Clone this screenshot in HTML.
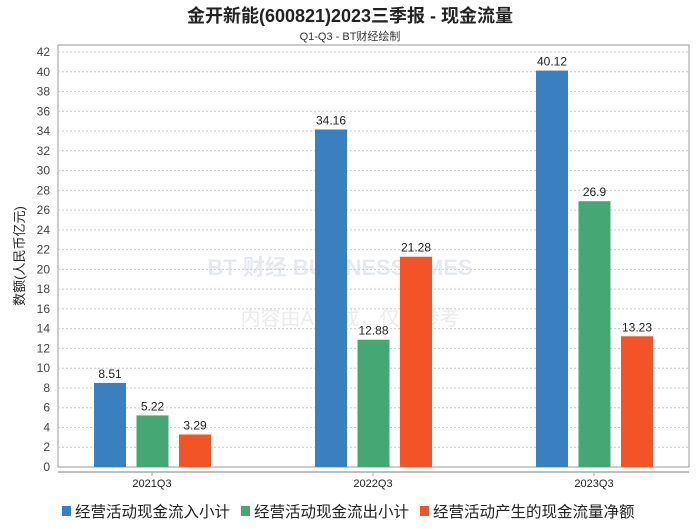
<!DOCTYPE html>
<html><head><meta charset="utf-8"><style>
body{margin:0;background:#fff;font-family:"Liberation Sans","Noto Sans CJK SC",sans-serif;}
svg text{font-family:"Liberation Sans","Noto Sans CJK SC",sans-serif;}
</style></head><body>
<svg id="c" width="700" height="524">
<text x="350" y="22" text-anchor="middle" font-size="18" font-weight="bold" fill="#222">金开新能(600821)2023三季报 - 现金流量</text>
<text x="350" y="40" text-anchor="middle" font-size="11" fill="#333">Q1-Q3 - BT财经绘制</text>
<rect x="58" y="45" width="631" height="422" fill="none" stroke="#999"/>
<line x1="58" y1="472" x2="689" y2="472" stroke="#aaa" stroke-width="1.5"/>
<text x="340" y="275" text-anchor="middle" font-size="22" font-weight="bold" fill="#e6eaef">BT 财经 BUSINESSTIMES</text>
<text x="350" y="325" text-anchor="middle" font-size="20" fill="#ececec">内容由AI生成，仅供参考</text>
<text transform="translate(24,256) rotate(-90)" text-anchor="middle" font-size="13" fill="#222">数额(人民币亿元)</text>
<g id="grid"></g><g id="bars"></g><g id="legend"></g>
</svg>
<script>
const categories=["2021Q3","2022Q3","2023Q3"];
const inflow=[8.51,34.16,40.12];
const outflow=[5.22,12.88,26.9];
const net=[3.29,21.28,13.23];
const yTicks=[0,2,4,6,8,10,12,14,16,18,20,22,24,26,28,30,32,34,36,38,40,42];
const seriesNames=["经营活动现金流入小计","经营活动现金流出小计","经营活动产生的现金流量净额"];
const colors=["#3a80c0","#45a874","#f25428"];
const NS="http://www.w3.org/2000/svg";
const y=v=>467-v*(415/42);
const x=i=>152+i*221;
function mk(t,a,p){const e=document.createElementNS(NS,t);for(const k in a)e.setAttribute(k,a[k]);p.appendChild(e);return e;}
const g=document.getElementById('grid');
yTicks.forEach(v=>{
 if(v>0){const l=mk('line',{x1:58,x2:689,y1:y(v),y2:y(v),stroke:'#ccc','stroke-dasharray':'2,2'},g);
 
 }
 const t=mk('text',{x:50,y:y(v)+4,'text-anchor':'end','font-size':12,fill:'#444'},g);t.textContent=v;
 
 
});
const b=document.getElementById('bars');
const series=[inflow,outflow,net];
categories.forEach((c,i)=>{
 const t=mk('text',{x:x(i),y:487,'text-anchor':'middle','font-size':11,fill:'#222'},b);t.textContent=c;
 
 
 const tk=mk('line',{x1:x(i),x2:x(i),y1:472,y2:476,stroke:'#aaa'},b);
 
 
 series.forEach((s,j)=>{
  const bx=x(i)-58+j*42.5;
  const r=mk('rect',{x:bx,y:y(s[i]),width:32,height:467-y(s[i]),fill:colors[j]},b);
  
  
  const l=mk('text',{x:bx+16,y:y(s[i])-5,'text-anchor':'middle','font-size':12,fill:'#222'},b);l.textContent=s[i];
  
  
 });
});
const lg=document.getElementById('legend');
const lx=[62,241,420];
seriesNames.forEach((n,j)=>{
 const r=mk('rect',{x:lx[j],y:506,width:9,height:10,fill:colors[j]},lg);
 
 
 const t=mk('text',{x:lx[j]+13,y:517,'font-size':15.5,fill:'#222'},lg);t.textContent=n;
 
 
});
</script>
</body></html>
